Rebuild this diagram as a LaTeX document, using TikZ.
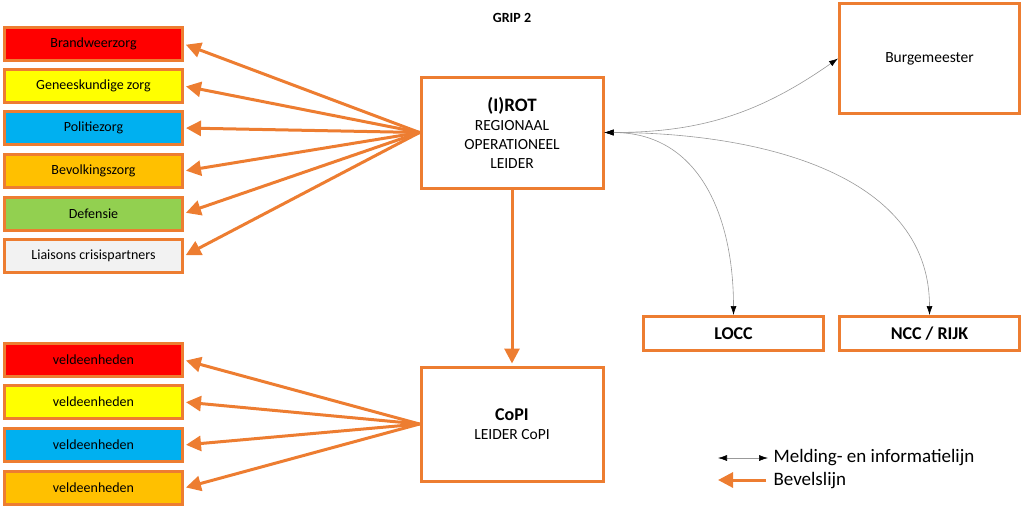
\documentclass[tikz,border=0pt]{standalone}
\usepackage{fontspec}
\setmainfont{Carlito}
\usetikzlibrary{arrows.meta}

\definecolor{rand}{HTML}{ED7D31}
\definecolor{rood}{HTML}{FF0000}
\definecolor{geel}{HTML}{FFFF00}
\definecolor{blauw}{HTML}{00B0F0}
\definecolor{oranje}{HTML}{FFC000}
\definecolor{groen}{HTML}{92D050}
\definecolor{grijs}{HTML}{F2F2F2}

\begin{document}
\begin{tikzpicture}[x=1pt,y=-1pt,
  vak/.style={rectangle,draw=rand,line width=3pt,minimum width=178pt,minimum height=33pt,inner sep=0pt,font=\fontsize{14}{16}\selectfont},
  blok/.style={rectangle,draw=rand,line width=3pt,fill=white,inner sep=0pt,align=center,font=\fontsize{15.5}{19}\selectfont},
  bevel/.style={draw=rand,line width=3pt,shorten >=2pt,-{Triangle[length=15pt,width=15pt]}},
  melding/.style={draw=black!40,line width=0.6pt,{Latex[length=9pt,width=6pt,color=black]}-{Latex[length=9pt,width=6pt,color=black]}}]
\useasboundingbox (0,0) rectangle (1024,509);

\node [font=\fontsize{14}{16}\selectfont\bfseries] (titel) at (512,18) {GRIP 2};

% regionaal operationeel team
\node [blok,minimum width=182pt,minimum height=111pt] (irot) at (512,132.5)
  {{\fontsize{19}{23}\selectfont\bfseries (I)ROT}\\ REGIONAAL\\ OPERATIONEEL\\ LEIDER};
\node [blok,minimum width=182pt,minimum height=114pt] (copi) at (512,424)
  {{\fontsize{18}{21}\selectfont\bfseries CoPI}\\ LEIDER CoPI};
\node [blok,minimum width=180pt,minimum height=110pt] (burg) at (929.5,58.5) {Burgemeester};
\node [blok,minimum width=180pt,minimum height=34pt,font=\fontsize{18}{20}\selectfont\bfseries] (locc) at (733.5,333.5) {LOCC};
\node [blok,minimum width=180pt,minimum height=34pt,font=\fontsize{18}{20}\selectfont\bfseries] (ncc) at (929.5,333.5) {NCC / RIJK};

% kolommen
\foreach \naam/\kleur/\tekst/\y in {brand/rood/Brandweerzorg/44,
    genees/geel/Geneeskundige zorg/86,
    politie/blauw/Politiezorg/128,
    bevolking/oranje/Bevolkingszorg/171,
    defensie/groen/Defensie/213.5,
    liaison/grijs/Liaisons crisispartners/256}
{
  \node [vak,fill=\kleur] (\naam) at (93.5,\y) {\tekst};
  \draw [bevel] (irot.west) -- (\naam.east);
}

% veldeenheden
\foreach \naam/\kleur/\y in {veld1/rood/360,veld2/geel/402,veld3/blauw/445,veld4/oranje/488}
{
  \node [vak,fill=\kleur] (\naam) at (93.5,\y) {veldeenheden};
  \draw [bevel] (copi.west) -- (\naam.east);
}

\draw [bevel] (irot.south) -- (copi.north);

% meldingen
\draw [melding] (irot.east) to[out=0,in=215] (burg.west);
\draw [melding] (irot.east) to[out=0,in=90,looseness=1.1] (locc.north);
\draw [melding] (irot.east) to[out=0,in=90] (ncc.north);

% legenda
\coordinate (m1) at (718,458);
\coordinate (m2) at (768,458);
\coordinate (b1) at (718,480);
\coordinate (b2) at (766,480);
\node [anchor=west,font=\fontsize{19}{21}\selectfont] (mtekst) at (770,458) {Melding- en informatielijn};
\node [anchor=west,font=\fontsize{19}{21}\selectfont] (btekst) at (770,481) {Bevelslijn};
\draw [melding] (m1) -- (m2);
\draw [draw=rand,line width=3pt,-{Triangle[length=15pt,width=15pt]}] (b2) -- (b1);
\end{tikzpicture}
\end{document}
